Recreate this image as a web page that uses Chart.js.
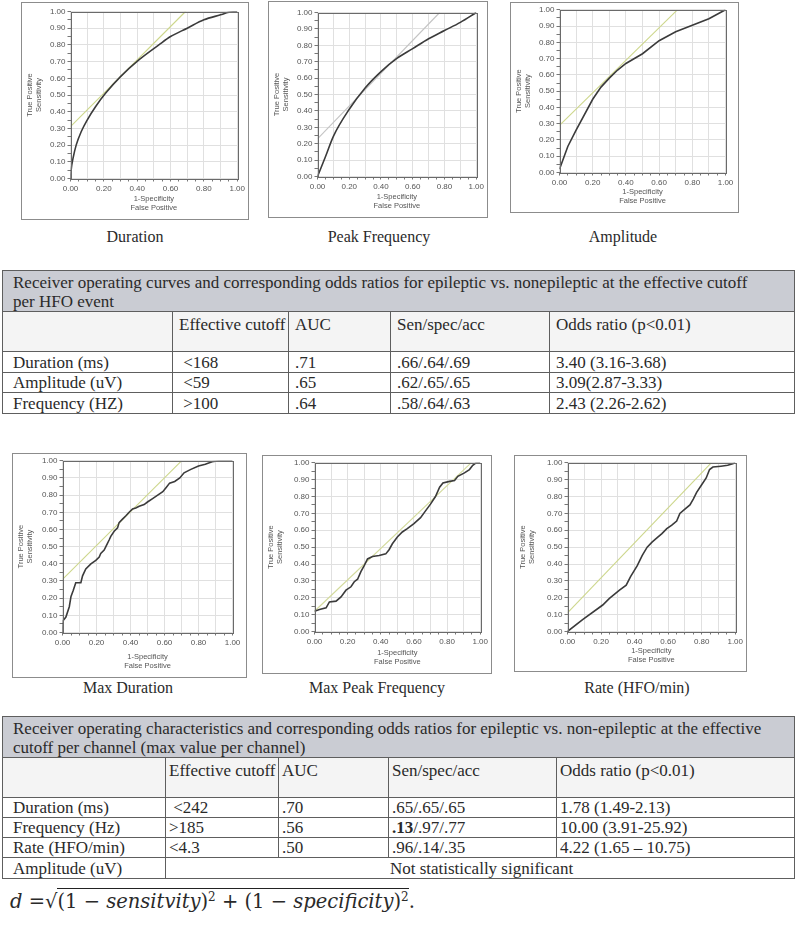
<!DOCTYPE html>
<html>
<head>
<meta charset="utf-8">
<script src="https://cdn.jsdelivr.net/npm/chart.js@4.4.1/dist/chart.umd.min.js"></script>
<style>
body{margin:0;background:#fff;width:797px;height:927px;position:relative;overflow:hidden;font-family:"Liberation Serif","Times New Roman",serif;color:#2a2a2a}
.box{position:absolute;border:1.5px solid #8c8c8c;box-sizing:border-box;background:#fff}
.box canvas{position:absolute;left:0;top:0}
.cap{position:absolute;font-size:16px;transform:translate(-50%,-50%);white-space:nowrap}
table{position:absolute;left:2px;width:792px;border-collapse:collapse;table-layout:fixed;font-size:17px}
td{border:1px solid #5e5e5e;padding:0 0 0 6px;line-height:19px;white-space:nowrap;overflow:hidden}
tr.ttl td{background:#caccd3;vertical-align:top;padding-top:2px}
tr.hdr td{background:#f4f4f4;vertical-align:top;padding-top:3px}
tr.row td{vertical-align:middle}
td.first{padding-left:10px}
#t2 td{padding-left:3px}
#t2 td.first{padding-left:10px}
.formula{position:absolute;left:10px;top:889px;font-size:19.5px;font-family:"DejaVu Serif",serif;white-space:nowrap}
.formula i{font-style:italic}
.rad{border-top:1px solid #222;padding-top:1px}
.formula sup{font-size:12px}
</style>
</head>
<body>

<div class="box" id="b1"><canvas id="c1"></canvas></div>
<div class="box" id="b2"><canvas id="c2"></canvas></div>
<div class="box" id="b3"><canvas id="c3"></canvas></div>
<div class="cap" style="left:135px;top:237px">Duration</div>
<div class="cap" style="left:379px;top:237px">Peak Frequency</div>
<div class="cap" style="left:623px;top:237px">Amplitude</div>

<table id="t1" style="top:270px">
<colgroup><col style="width:170px"><col style="width:116px"><col style="width:102px"><col style="width:159px"><col style="width:245px"></colgroup>
<tr class="ttl" style="height:40px"><td colspan="5" class="first" style="padding-left:10px">Receiver operating curves and corresponding odds ratios for epileptic vs. nonepileptic at the effective cutoff<br>per HFO event</td></tr>
<tr class="hdr" style="height:40px"><td></td><td>Effective cutoff</td><td>AUC</td><td>Sen/spec/acc</td><td>Odds ratio (p&lt;0.01)</td></tr>
<tr class="row" style="height:21px"><td class="first">Duration (ms)</td><td>&nbsp;&lt;168</td><td>.71</td><td>.66/.64/.69</td><td>3.40 (3.16-3.68)</td></tr>
<tr class="row" style="height:20px"><td class="first">Amplitude (uV)</td><td>&nbsp;&lt;59</td><td>.65</td><td>.62/.65/.65</td><td>3.09(2.87-3.33)</td></tr>
<tr class="row" style="height:21px"><td class="first">Frequency (HZ)</td><td>&nbsp;&gt;100</td><td>.64</td><td>.58/.64/.63</td><td>2.43 (2.26-2.62)</td></tr>
</table>

<div class="box" id="b4"><canvas id="c4"></canvas></div>
<div class="box" id="b5"><canvas id="c5"></canvas></div>
<div class="box" id="b6"><canvas id="c6"></canvas></div>
<div class="cap" style="left:128px;top:688px">Max Duration</div>
<div class="cap" style="left:377px;top:688px">Max Peak Frequency</div>
<div class="cap" style="left:637px;top:688px">Rate (HFO/min)</div>

<table id="t2" style="top:716px">
<colgroup><col style="width:163px"><col style="width:113px"><col style="width:110px"><col style="width:168px"><col style="width:238px"></colgroup>
<tr class="ttl" style="height:41px"><td colspan="5" class="first">Receiver operating characteristics and corresponding odds ratios for epileptic vs. non-epileptic at the effective<br>cutoff per channel (max value per channel)</td></tr>
<tr class="hdr" style="height:40px"><td></td><td>Effective cutoff</td><td>AUC</td><td>Sen/spec/acc</td><td>Odds ratio (p&lt;0.01)</td></tr>
<tr class="row" style="height:20px"><td class="first">Duration (ms)</td><td>&nbsp;&lt;242</td><td>.70</td><td>.65/.65/.65</td><td>1.78 (1.49-2.13)</td></tr>
<tr class="row" style="height:20px"><td class="first">Frequency (Hz)</td><td>&gt;185</td><td>.56</td><td><b>.13</b>/.97/.77</td><td>10.00 (3.91-25.92)</td></tr>
<tr class="row" style="height:20px"><td class="first">Rate (HFO/min)</td><td>&lt;4.3</td><td>.50</td><td>.96/.14/.35</td><td>4.22 (1.65 – 10.75)</td></tr>
<tr class="row" style="height:21px"><td class="first">Amplitude (uV)</td><td colspan="4" style="text-align:center">Not statistically significant</td></tr>
</table>

<div class="formula"><i>d</i> =√<span class="rad">(1 − <i>sensitvity</i>)<sup>2</sup> + (1 − <i>specificity</i>)<sup>2</sup></span>.</div>

<script>
// ROC curves (x = 1-specificity, y = sensitivity)
const durX = [0, 0.005, 0.015, 0.034, 0.064, 0.10, 0.15, 0.21, 0.30, 0.41, 0.53, 0.6, 0.7, 0.8, 0.9, 0.95, 1];
const durY = [0, 0.06, 0.12, 0.20, 0.28, 0.35, 0.43, 0.51, 0.61, 0.71, 0.80, 0.85, 0.90, 0.95, 0.98, 0.995, 1];
const durTanX = [0, 0.69];
const durTanY = [0.31, 1];

const pfX = [0, 0.05, 0.1, 0.2, 0.3, 0.4, 0.5, 0.6, 0.7, 0.8, 0.9, 1];
const pfY = [0, 0.12, 0.245, 0.41, 0.54, 0.64, 0.72, 0.78, 0.84, 0.89, 0.94, 1];
const pfTanX = [0, 0.77];
const pfTanY = [0.23, 1];

const ampX = [0, 0.05, 0.1, 0.2, 0.25, 0.3, 0.35, 0.4, 0.5, 0.6, 0.7, 0.8, 0.9, 1];
const ampY = [0.02, 0.16, 0.26, 0.45, 0.525, 0.58, 0.63, 0.67, 0.73, 0.81, 0.865, 0.905, 0.945, 1];
const ampTanX = [0, 0.71];
const ampTanY = [0.29, 1];

const mdX = [0, 0.004, 0.02, 0.04, 0.05, 0.063, 0.078, 0.108, 0.118, 0.137, 0.167, 0.196, 0.216, 0.225, 0.245, 0.255, 0.275, 0.284, 0.304, 0.324, 0.333, 0.353, 0.373, 0.392, 0.412, 0.431, 0.451, 0.48, 0.5, 0.53, 0.56, 0.59, 0.61, 0.63, 0.66, 0.69, 0.715, 0.755, 0.8, 0.84, 0.88, 0.92, 1];
const mdY = [0, 0.07, 0.09, 0.15, 0.21, 0.245, 0.29, 0.29, 0.33, 0.37, 0.40, 0.42, 0.44, 0.46, 0.48, 0.50, 0.54, 0.56, 0.59, 0.61, 0.64, 0.66, 0.68, 0.70, 0.72, 0.725, 0.735, 0.745, 0.76, 0.78, 0.80, 0.82, 0.845, 0.87, 0.88, 0.90, 0.93, 0.95, 0.97, 0.98, 0.995, 1, 1];
const mdTanX = [0, 0.70];
const mdTanY = [0.31, 1];

const mpX = [0, 0.03, 0.07, 0.09, 0.13, 0.16, 0.19, 0.22, 0.24, 0.26, 0.28, 0.30, 0.32, 0.35, 0.39, 0.43, 0.45, 0.47, 0.50, 0.53, 0.56, 0.60, 0.64, 0.67, 0.70, 0.73, 0.755, 0.775, 0.815, 0.845, 0.865, 0.905, 0.935, 0.955, 0.975, 1];
const mpY = [0.12, 0.13, 0.14, 0.175, 0.18, 0.205, 0.245, 0.265, 0.295, 0.31, 0.355, 0.39, 0.43, 0.445, 0.45, 0.46, 0.485, 0.52, 0.56, 0.59, 0.61, 0.64, 0.675, 0.715, 0.755, 0.80, 0.855, 0.88, 0.89, 0.895, 0.92, 0.94, 0.96, 0.985, 1, 1];
const mpTanX = [0, 0.945];
const mpTanY = [0.12, 1];

const rtX = [0, 0.09, 0.21, 0.25, 0.31, 0.35, 0.376, 0.416, 0.445, 0.475, 0.504, 0.533, 0.563, 0.592, 0.622, 0.651, 0.67, 0.70, 0.73, 0.75, 0.77, 0.80, 0.827, 0.847, 0.867, 0.915, 0.955, 0.985, 1];
const rtY = [0, 0.07, 0.157, 0.196, 0.245, 0.275, 0.325, 0.39, 0.45, 0.50, 0.53, 0.555, 0.58, 0.61, 0.63, 0.655, 0.70, 0.725, 0.75, 0.785, 0.825, 0.87, 0.91, 0.96, 0.975, 0.98, 0.985, 0.995, 1];
const rtTanX = [0, 0.857];
const rtTanY = [0.11, 1];

// page layout: outer box and plot area [left, top, right, bottom]
const layouts = {
  c1: { box: [21, 2, 249, 220], plot: [71, 12, 238, 179] },
  c2: { box: [268, 1, 488, 218], plot: [318, 13, 477, 177] },
  c3: { box: [510, 2, 739, 213], plot: [560, 8, 726, 173] },
  c4: { box: [12, 453, 247, 678], plot: [63, 459, 233, 633] },
  c5: { box: [262, 455, 492, 674], plot: [315, 462, 483, 632] },
  c6: { box: [514, 455, 747, 672], plot: [568, 462, 737, 632] }
};

Chart.defaults.font.family = '"Liberation Sans", Arial, sans-serif';
Chart.defaults.color = '#555';

const frame = {
  id: 'frame',
  afterDraw(chart) {
    const a = chart.chartArea, ctx = chart.ctx;
    ctx.save();
    ctx.strokeStyle = '#6a6a6a';
    ctx.lineWidth = 1;
    ctx.strokeRect(Math.round(a.left) + 0.5, Math.round(a.top) + 0.5, Math.round(a.right - a.left), Math.round(a.bottom - a.top));
    ctx.restore();
  }
};

function pts(xs, ys) {
  return xs.map((x, i) => ({ x: x, y: ys[i] }));
}

function isMajor(v) {
  return Math.round(v * 100) % 10 === 0;
}

function rocChart(id, xs, ys, tx, ty, tanColor, smooth) {
  const lay = layouts[id];
  const b = lay.box, p = lay.plot, bw = 1.5;
  const div = document.getElementById('b' + id.slice(1));
  div.style.left = b[0] + 'px';
  div.style.top = b[1] + 'px';
  div.style.width = (b[2] - b[0]) + 'px';
  div.style.height = (b[3] - b[1]) + 'px';
  const canvas = document.getElementById(id);
  const w = b[2] - b[0] - 2 * bw, h = b[3] - b[1] - 2 * bw;
  canvas.width = w; canvas.height = h;
  canvas.style.width = w + 'px'; canvas.style.height = h + 'px';
  const ox = b[0] + bw, oy = b[1] + bw;

  const tickFont = { size: 8 };
  const titleFont = { size: 7.5, lineHeight: 1.2 };
  new Chart(canvas, {
    type: 'scatter',
    data: {
      datasets: [
        { data: pts(xs, ys), showLine: true, borderColor: '#3b3b3b', borderWidth: 1.6, pointRadius: 0,
          tension: smooth ? 0.4 : 0, cubicInterpolationMode: smooth ? 'monotone' : 'default' },
        { data: pts(tx, ty), showLine: true, borderColor: tanColor, borderWidth: 1.1, pointRadius: 0 }
      ]
    },
    plugins: [frame],
    options: {
      responsive: false,
      animation: false,
      layout: { padding: { top: p[1] - oy, right: ox + w - p[2], left: 0, bottom: 0 } },
      plugins: { legend: { display: false }, tooltip: { enabled: false } },
      scales: {
        x: {
          type: 'linear', min: 0, max: 1,
          afterFit: (axis) => { axis.height = oy + h - p[3]; },
          grid: {
            color: (c) => isMajor(c.tick.value) ? '#e0e0e0' : 'rgba(0,0,0,0)',
            tickColor: '#777', tickLength: 3
          },
          border: { display: false },
          ticks: {
            stepSize: 0.05, autoSkip: false, maxRotation: 0, padding: 2, font: tickFont,
            callback: (v) => Math.round(v * 100) % 20 === 0 ? v.toFixed(2) : ''
          },
          title: { display: true, text: ['1-Specificity', 'False Positive'], font: titleFont, padding: { top: 0, bottom: 6 } }
        },
        y: {
          type: 'linear', min: 0, max: 1,
          afterFit: (axis) => { axis.width = p[0] - ox; },
          grid: {
            color: (c) => isMajor(c.tick.value) ? '#e0e0e0' : 'rgba(0,0,0,0)',
            tickColor: '#777', tickLength: 3
          },
          border: { display: false },
          ticks: {
            stepSize: 0.05, autoSkip: false, padding: 2, font: tickFont,
            callback: (v) => isMajor(v) ? v.toFixed(2) : ''
          },
          title: { display: true, text: ['True Positive', 'Sensitivity'], font: titleFont, padding: { top: 3, bottom: 0 } }
        }
      }
    }
  });
}

rocChart('c1', durX, durY, durTanX, durTanY, '#cdd78c', true);
rocChart('c2', pfX, pfY, pfTanX, pfTanY, '#c4c4c4', true);
rocChart('c3', ampX, ampY, ampTanX, ampTanY, '#cdd78c', false);
rocChart('c4', mdX, mdY, mdTanX, mdTanY, '#cdd78c', false);
rocChart('c5', mpX, mpY, mpTanX, mpTanY, '#d3da9c', false);
rocChart('c6', rtX, rtY, rtTanX, rtTanY, '#cdd78c', false);
</script>
</body>
</html>
